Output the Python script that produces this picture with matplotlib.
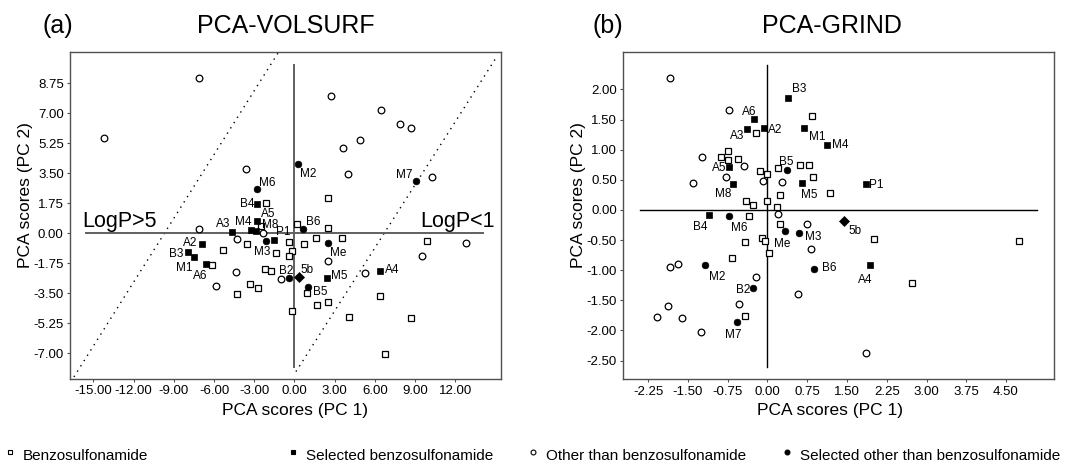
import matplotlib
matplotlib.use("Agg")
import matplotlib.pyplot as plt

plt.rcParams['font.family'] = ['Liberation Sans', 'DejaVu Sans']

# ---------------- Panel (a): PCA-VOLSURF ----------------
a_benzo_x = [2.5, -2.13, 0.22, 2.5, -0.43, 0.69, 1.6, 3.57, -0.19, -1.4, -0.43, -2.2, -1.78,
             0.96, 1.7, 2.5, -0.16, 9.91, 6.38, 4.07, 8.67, 6.78, -5.36, -3.57, -6.18, -4.27,
             -3.34, -2.7, -2.5]
a_benzo_y = [2.08, 1.75, 0.55, 0.29, -0.51, -0.6, -0.26, -0.29, -1.01, -1.13, -1.32, -2.06, -2.18,
             -3.48, -4.18, -4.03, -4.55, -0.45, -3.66, -4.9, -4.92, -7.02, -0.97, -0.64, -1.87, -3.56,
             -2.98, -3.17, 0.44]
a_other_x = [-7.1, -14.19, -3.64, 2.7, 6.43, 7.85, 8.69, 4.89, 3.64, 4.0, 10.28, -7.15, -4.31,
             -2.37, 2.48, -4.38, -5.86, -1.0, 9.49, 12.82, 5.26]
a_other_y = [9.04, 5.54, 3.73, 8.01, 7.18, 6.38, 6.14, 5.44, 5.0, 3.48, 3.3, 0.24, -0.32,
             0.0, -1.61, -2.25, -3.07, -2.67, -1.32, -0.58, -2.3]
a_selbenzo_names = ['B4', 'A5', 'A3', 'M4', 'M8', 'P1', 'A2', 'B3', 'M1', 'A6', 'M5', 'A4']
a_selbenzo_x = [-2.78, -2.8, -4.64, -3.27, -2.87, -1.55, -6.9, -7.93, -7.5, -6.63, 2.4, 6.4]
a_selbenzo_y = [1.69, 0.72, 0.08, 0.19, 0.15, -0.4, -0.64, -1.11, -1.4, -1.81, -2.63, -2.18]
a_selother_names = ['M6', 'M2', 'M7', 'B6', 'Me', 'B2', 'B5', 'M3']
a_selother_x = [-2.82, 0.28, 9.04, 0.61, 2.48, -0.41, 1.03, -2.15]
a_selother_y = [2.57, 4.04, 3.05, 0.27, -0.58, -2.59, -3.15, -0.42]
a_ref_names = ['5b']
a_ref_x = [0.34]
a_ref_y = [-2.53]
a_xticks = [-15, -12, -9, -6, -3, 0, 3, 6, 9, 12]
a_yticks = [-7.0, -5.25, -3.5, -1.75, 0.0, 1.75, 3.5, 5.25, 7.0, 8.75]

# ---------------- Panel (b): PCA-GRIND ----------------
b_benzo_x = [0.84, -0.21, -0.75, -0.87, -0.74, -0.56, -0.15, -0.01, 0.19, 0.61, 0.79, 0.85, 1.18,
             0.23, -0.4, -0.27, -0.01, 0.18, -0.35, 0.23, -0.11, -0.05, -0.42, 0.03, -0.67,
             -0.42, 2.01, 4.75, 2.73]
b_benzo_y = [1.55, 1.28, 0.98, 0.87, 0.83, 0.85, 0.64, 0.6, 0.69, 0.74, 0.74, 0.55, 0.28,
             0.25, 0.14, 0.08, 0.15, 0.05, -0.1, -0.24, -0.46, -0.51, -0.53, -0.71, -0.8,
             -1.76, -0.49, -0.51, -1.22]
b_other_x = [-1.83, -0.72, -1.24, -0.45, -0.79, -1.4, -0.08, 0.28, 0.2, 0.74, 0.83, -1.84, -1.68,
             -0.22, 0.57, -1.88, -0.54, -2.08, -1.62, -1.25, 1.85]
b_other_y = [2.19, 1.65, 0.87, 0.73, 0.55, 0.45, 0.48, 0.47, -0.07, -0.23, -0.65, -0.94, -0.9,
             -1.12, -1.39, -1.59, -1.56, -1.78, -1.8, -2.03, -2.38]
b_selbenzo_names = ['B3', 'A6', 'A3', 'A2', 'M1', 'M4', 'A5', 'M8', 'M5', 'P1', 'B4', 'A4']
b_selbenzo_x = [0.39, -0.25, -0.38, -0.07, 0.68, 1.12, -0.73, -0.65, 0.66, 1.85, -1.1, 1.94]
b_selbenzo_y = [1.85, 1.51, 1.34, 1.36, 1.36, 1.07, 0.71, 0.43, 0.45, 0.43, -0.09, -0.92]
b_selother_names = ['B5', 'M6', 'Me', 'M3', 'M2', 'B6', 'B2', 'M7']
b_selother_x = [0.36, -0.72, 0.33, 0.6, -1.18, 0.88, -0.28, -0.58]
b_selother_y = [0.67, -0.1, -0.35, -0.39, -0.92, -0.98, -1.29, -1.86]
b_ref_names = ['5b']
b_ref_x = [1.44]
b_ref_y = [-0.19]
b_xticks = [-2.25, -1.5, -0.75, 0.0, 0.75, 1.5, 2.25, 3.0, 3.75, 4.5]
b_yticks = [-2.5, -2.0, -1.5, -1.0, -0.5, 0.0, 0.5, 1.0, 1.5, 2.0]

legend_labels = ['Benzosulfonamide', 'Selected benzosulfonamide',
                 'Other than benzosulfonamide', 'Selected other than benzosulfonamide']

# label placement: (dx px, dy px to baseline, ha)
a_lab = {'M2': (2, -13, 'left'), 'M6': (2, 3, 'left'), 'B4': (-3, -3, 'right'),
         'A5': (4, 4, 'left'), 'A3': (-2, 5, 'right'), 'M4': (1, 5, 'right'),
         'M8': (6, 3, 'left'), 'P1': (2, 5, 'left'), 'M3': (-3.5, -14, 'center'),
         'A2': (-5, -1.5, 'right'), 'B3': (-5, -5, 'right'), 'M1': (-1, -14, 'right'),
         'A6': (-5, -15, 'center'), 'B6': (3, 4, 'left'), 'Me': (2, -13, 'left'),
         'B2': (-2.5, 4, 'center'), '5b': (1, 4, 'left'), 'M5': (4, -1, 'left'),
         'B5': (5, -8, 'left'), 'A4': (5, -2, 'left'), 'M7': (-3, 3, 'right')}
b_lab = {'B3': (4, 6, 'left'), 'A6': (-5, 4, 'center'), 'A3': (-3, -10, 'right'),
         'A2': (4, -5, 'left'), 'M1': (5, -12, 'left'), 'M4': (5, -3, 'left'),
         'B5': (0, 5, 'center'), 'A5': (-2, -4, 'right'), 'M8': (-2, -13, 'right'),
         'M5': (-1, -15, 'left'), 'P1': (3, -4, 'left'), 'B4': (-2, -15, 'right'),
         'M6': (2, -15, 'left'), 'Me': (-3, -16, 'center'), 'M3': (6, -7, 'left'),
         '5b': (5, -13, 'left'), 'B6': (8, -2, 'left'), 'A4': (-5, -18, 'center'),
         'M2': (4, -15, 'left'), 'B2': (-2, -5, 'right'), 'M7': (-3, -16, 'center')}

W, H = 1065, 468
fig = plt.figure(figsize=(W / 100, H / 100), dpi=100)

FRAME = '#505050'
LABFS = 8.5


def frac(x0, y0, x1, y1):
    return [x0 / W, 1 - y1 / H, (x1 - x0) / W, (y1 - y0) / H]


def draw_points(ax, bx, by, ox, oy, sbn, sbx, sby, son, sox, soy, rn, rx, ry, lab):
    ax.plot(bx, by, 's', ms=4.6, mfc='white', mec='black', mew=0.9, ls='none', zorder=4)
    ax.plot(ox, oy, 'o', ms=4.8, mfc='white', mec='black', mew=0.9, ls='none', zorder=4)
    ax.plot(sbx, sby, 's', ms=4.6, mfc='black', mec='black', mew=0.5, ls='none', zorder=5)
    ax.plot(sox, soy, 'o', ms=4.8, mfc='black', mec='black', mew=0.5, ls='none', zorder=5)
    ax.plot(rx, ry, 'D', ms=4.6, mfc='black', mec='black', mew=0.5, ls='none', zorder=5)
    for names, xs, ys in ((sbn, sbx, sby), (son, sox, soy), (rn, rx, ry)):
        for n, x, y in zip(names, xs, ys):
            dx, dy, ha = lab[n]
            ax.annotate(n, (x, y), xytext=(dx, dy), textcoords='offset pixels',
                        ha=ha, va='baseline', fontsize=LABFS, zorder=6)


def style_axes(ax, xt, yt, xlim, ylim, fmt):
    ax.set_xlim(*xlim)
    ax.set_ylim(*ylim)
    ax.set_xticks(xt)
    ax.set_yticks(yt)
    ax.set_xticklabels([fmt(v) for v in xt], fontsize=9.5)
    ax.set_yticklabels([fmt(v) for v in yt], fontsize=9.5)
    ax.tick_params(direction='out', length=2.5, width=0.8, color=FRAME, pad=2)
    for s in ax.spines.values():
        s.set_color(FRAME)
        s.set_linewidth(1.0)


fmt2 = lambda v: f"{v:.2f}"

# ---- panel (a)
axa = fig.add_axes(frac(70, 52, 500.7, 379))
style_axes(axa, a_xticks, a_yticks, (-16.75, 15.39), (-8.50, 10.58), fmt2)
axa.plot([-15.56, 14.1], [0, 0], color='#606060', lw=1.4, zorder=2)
axa.plot([0, 0], [-7.78, 9.82], color='#606060', lw=1.4, zorder=2)
axa.plot([-16.46, -1.23], [-8.38, 10.52], color='black', lw=1.0, ls=(0, (1, 3.5)), zorder=1)
axa.plot([0.11, 15.09], [-8.07, 10.3], color='black', lw=1.0, ls=(0, (1, 3.5)), zorder=1)
draw_points(axa, a_benzo_x, a_benzo_y, a_other_x, a_other_y,
            a_selbenzo_names, a_selbenzo_x, a_selbenzo_y,
            a_selother_names, a_selother_x, a_selother_y,
            a_ref_names, a_ref_x, a_ref_y, a_lab)
fig.text(82 / W, 1 - 227 / H, 'LogP>5', fontsize=15.5, ha='left', va='baseline')
fig.text(420.7 / W, 1 - 226.7 / H, 'LogP<1', fontsize=15.5, ha='left', va='baseline')

# ---- panel (b)
axb = fig.add_axes(frac(623.3, 52.3, 1054.3, 379.3))
style_axes(axb, b_xticks, b_yticks, (-2.72, 5.41), (-2.81, 2.615), fmt2)
axb.plot([-2.41, 5.09], [0, 0], color='black', lw=1.0, zorder=2)
axb.plot([0, 0], [-2.6, 2.4], color='black', lw=1.0, zorder=2)
draw_points(axb, b_benzo_x, b_benzo_y, b_other_x, b_other_y,
            b_selbenzo_names, b_selbenzo_x, b_selbenzo_y,
            b_selother_names, b_selother_x, b_selother_y,
            b_ref_names, b_ref_x, b_ref_y, b_lab)

# ---- titles and axis labels
TFS = 18
fig.text(42 / W, 1 - 33.3 / H, '(a)', fontsize=TFS, ha='left', va='baseline')
fig.text(285.5 / W, 1 - 33.3 / H, 'PCA-VOLSURF', fontsize=TFS, ha='center', va='baseline')
fig.text(593 / W, 1 - 33.3 / H, '(b)', fontsize=TFS, ha='left', va='baseline')
fig.text(832 / W, 1 - 33.3 / H, 'PCA-GRIND', fontsize=TFS, ha='center', va='baseline')

AFS = 12.5
fig.text(25.5 / W, 1 - 195.5 / H, 'PCA scores (PC 2)', fontsize=AFS, rotation=90,
         ha='center', va='center')
fig.text(578 / W, 1 - 195.5 / H, 'PCA scores (PC 2)', fontsize=AFS, rotation=90,
         ha='center', va='center')
fig.text(295 / W, 1 - 411 / H, 'PCA scores (PC 1)', fontsize=AFS, ha='center', va='center')
fig.text(830 / W, 1 - 411 / H, 'PCA scores (PC 1)', fontsize=AFS, ha='center', va='center')

# ---- bottom legend
leg_marker = [('s', 'white'), ('s', 'black'), ('o', 'white'), ('o', 'black')]
leg_mx = [10, 293, 533, 787]
for (m, fc), mx, txt in zip(leg_marker, leg_mx, legend_labels):
    fig.lines.append(plt.Line2D([mx / W], [1 - 452 / H], marker=m, ms=3.5, mfc=fc, mec='black',
                                mew=0.8, ls='none', transform=fig.transFigure))
    fig.text((mx + 13) / W, 1 - 456 / H, txt, fontsize=11, ha='left', va='center')

fig.savefig('out.png', dpi=100)
